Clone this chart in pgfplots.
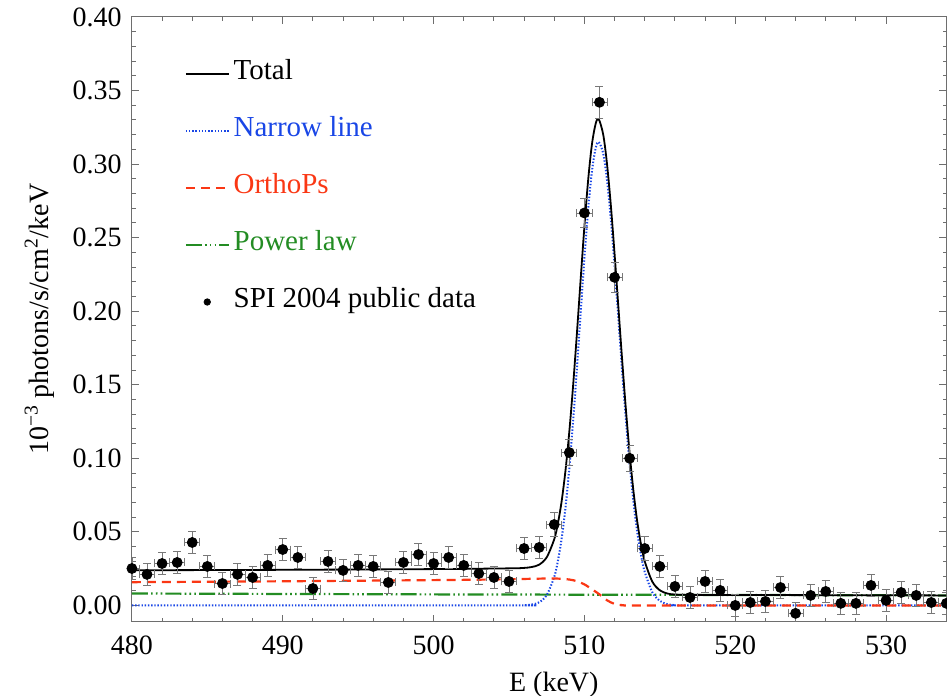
\documentclass[border=0pt]{standalone}
\usepackage{fontspec}
\setmainfont{Liberation Serif}
\usepackage{pgfplots}
\pgfplotsset{compat=1.18}
\definecolor{nblue}{RGB}{25,70,230}
\definecolor{ored}{RGB}{250,55,20}
\definecolor{pgreen}{RGB}{35,140,35}
\definecolor{axgray}{RGB}{110,110,110}
\definecolor{errgray}{RGB}{120,120,120}
\pgfplotsset{
  lline/.style={legend image code/.code={\draw[##1] (0pt,0pt) -- (21.5pt,0pt);}},
  ldot/.style={legend image code/.code={\fill[black] (10.75pt,0pt) circle (1.6pt);}},
}
\pgfplotstableread{
x y ey
480 0.0251 0.0075
481 0.0211 0.0075
482 0.0285 0.0075
483 0.0292 0.0075
484 0.0428 0.0075
485 0.0265 0.0075
486 0.0149 0.0075
487 0.0211 0.0075
488 0.0190 0.0075
489 0.0272 0.0075
490 0.0380 0.0075
491 0.0326 0.0075
492 0.0115 0.0075
493 0.0299 0.0075
494 0.0238 0.0075
495 0.0272 0.0075
496 0.0265 0.0075
497 0.0156 0.0075
498 0.0292 0.0075
499 0.0346 0.0075
500 0.0285 0.0075
501 0.0326 0.0075
502 0.0272 0.0075
503 0.0217 0.0075
504 0.0190 0.0075
505 0.0163 0.0075
506 0.0387 0.0075
507 0.0394 0.0075
508 0.0550 0.0080
509 0.1039 0.0090
510 0.2668 0.0100
511 0.3420 0.0110
512 0.2230 0.0100
513 0.1000 0.0090
514 0.0387 0.0080
515 0.0265 0.0075
516 0.0129 0.0075
517 0.0054 0.0075
518 0.0163 0.0075
519 0.0102 0.0075
520 0.0000 0.0075
521 0.0020 0.0075
522 0.0027 0.0075
523 0.0122 0.0075
524 -0.0054 0.0075
525 0.0068 0.0075
526 0.0095 0.0075
527 0.0014 0.0075
528 0.0014 0.0075
529 0.0136 0.0075
530 0.0034 0.0075
531 0.0088 0.0075
532 0.0068 0.0075
533 0.0020 0.0075
534 0.0014 0.0075
}\spidata
\begin{document}
\begin{tikzpicture}
\path[use as bounding box] (-66pt,-37pt) rectangle (407.8pt,311pt);
\begin{axis}[
  at={(0,0)}, anchor=south west,
  scale only axis, width=407.5pt, height=302.5pt,
  xmin=480, xmax=534, ymin=-0.011, ymax=0.40,
  xtick={480,490,500,510,520,530}, minor x tick num=4,
  ytick={0,0.05,0.10,0.15,0.20,0.25,0.30,0.35,0.40}, minor y tick num=4,
  scaled y ticks=false,
  tick align=inside, major tick length=3.5pt, minor tick length=1.8pt,
  axis line style={axgray, line width=0.5pt},
  every tick/.style={axgray, line width=0.5pt},
  /pgf/number format/assume math mode=true,
  tick label style={font=\fontsize{14}{16}\selectfont\rmfamily},
  y tick label style={/pgf/number format/.cd, fixed, fixed zerofill, precision=2, /tikz/.cd, inner sep=0pt, xshift=-5pt},
  x tick label style={inner sep=0pt, yshift=-7pt},
  xlabel={E (keV)},
  xlabel style={at={(axis description cs:0.518,0)}, anchor=north, yshift=-25pt, inner sep=0pt, font=\fontsize{14}{16}\selectfont},
  ylabel={10\textsuperscript{−3} photons/s/cm\textsuperscript{2}/keV},
  ylabel style={at={(axis description cs:-0.103,0.5)}, anchor=base, inner sep=0pt, font=\fontsize{14}{16}\selectfont},
  legend style={at={(axis description cs:0,1)}, anchor=north west, xshift=26.5pt, yshift=-23.6pt,
    draw=none, fill=none, inner sep=0pt, outer sep=0pt, row sep=18.5pt, column sep=2pt,
    font=\fontsize{14.5}{17}\selectfont,
    nodes={inner sep=0pt, text height=0.75em, text depth=0.25em}},
  legend cell align=left,
]
\addlegendimage{black, line width=0.8pt, lline}
\addlegendentry{Total}
\addlegendimage{nblue, line width=0.9pt, dash pattern=on 0.7pt off 0.9pt, lline}
\addlegendentry{\textcolor{nblue}{Narrow line}}
\addlegendimage{ored, line width=0.9pt, dash pattern=on 4.5pt off 3pt, lline}
\addlegendentry{\textcolor{ored}{OrthoPs}}
\addlegendimage{pgreen, line width=0.9pt, dash pattern=on 8pt off 1.6pt on 0.8pt off 1.6pt on 0.8pt off 1.6pt on 0.8pt off 1.6pt, lline}
\addlegendentry{\textcolor{pgreen}{Power law}}
\addlegendimage{black, ldot}
\addlegendentry{SPI 2004 public data}

% Power law
\addplot[forget plot, pgreen, line width=1.1pt, dash pattern=on 8pt off 1.6pt on 0.8pt off 1.6pt on 0.8pt off 1.6pt on 0.8pt off 1.6pt] coordinates {
(480,0.0081) (490,0.0078) (500,0.0075) (510,0.0073) (520,0.0071) (534,0.0068)};
% Narrow line
\addplot[forget plot, nblue, line width=1pt, dash pattern=on 0.7pt off 0.9pt, smooth] coordinates {
(480,0) (505,0) (506,0.0001) (506.5,0.0006) (507,0.0021) (507.5,0.0070) (508,0.0194) (508.25,0.0306) (508.5,0.0461) (508.75,0.0669) (509,0.0933) (509.25,0.1249) (509.5,0.1607) (509.75,0.1987) (510,0.2360) (510.25,0.2693) (510.5,0.2952) (510.75,0.3110) (510.95,0.3150) (511.25,0.3071) (511.5,0.2892) (511.75,0.2629) (512,0.2307) (512.25,0.1954) (512.5,0.1598) (512.75,0.1261) (513,0.0961) (513.25,0.0707) (513.5,0.0501) (513.75,0.0344) (514,0.0228) (514.5,0.0090) (515,0.0031) (515.5,0.0009) (516,0.0002) (517,0) (534,0)};
% OrthoPs
\addplot[forget plot, ored, line width=1.1pt, dash pattern=on 4.5pt off 3pt, smooth] coordinates {
(480,0.0158) (485,0.0161) (490,0.0164) (495,0.0168) (500,0.0172) (503,0.0175) (505,0.0178) (506,0.0180) (507,0.0182) (507.5,0.0183) (508,0.0183) (508.5,0.0181) (509,0.0176) (509.5,0.0165) (510,0.0143) (510.5,0.0110) (511,0.0075) (511.5,0.0035) (512,0.0010) (512.5,0.0002) (513,0) (520,0) (534,0)};
% Total
\addplot[forget plot, black, line width=0.9pt, smooth] coordinates {
(480,0.0239) (490,0.0242) (500,0.0247) (505,0.0252) (506,0.0255) (506.5,0.0261) (507,0.0277) (507.5,0.0327) (508,0.0450) (508.25,0.0561) (508.5,0.0715) (508.75,0.0921) (509,0.1182) (509.25,0.1493) (509.5,0.1845) (509.75,0.2215) (510,0.2576) (510.25,0.2893) (510.5,0.3135) (510.75,0.3276) (510.95,0.3305) (511.25,0.3199) (511.5,0.3000) (511.75,0.2723) (512,0.2390) (512.25,0.2031) (512.5,0.1672) (512.75,0.1334) (513,0.1033) (513.25,0.0779) (513.5,0.0573) (513.75,0.0416) (514,0.0300) (514.5,0.0162) (515,0.0103) (515.5,0.0081) (516,0.0074) (517,0.0072) (520,0.0071) (534,0.0068)};
% Data
\addplot[forget plot, only marks, mark=*, mark size=2.5pt, black,
  error bars/.cd, x dir=both, x fixed=0.5, y dir=both, y explicit,
  error bar style={errgray, line width=0.4pt},
  error mark options={errgray, line width=0.4pt, mark size=2pt, rotate=90}]
  table[x=x, y=y, y error=ey] {\spidata};
\end{axis}
\end{tikzpicture}
\end{document}
